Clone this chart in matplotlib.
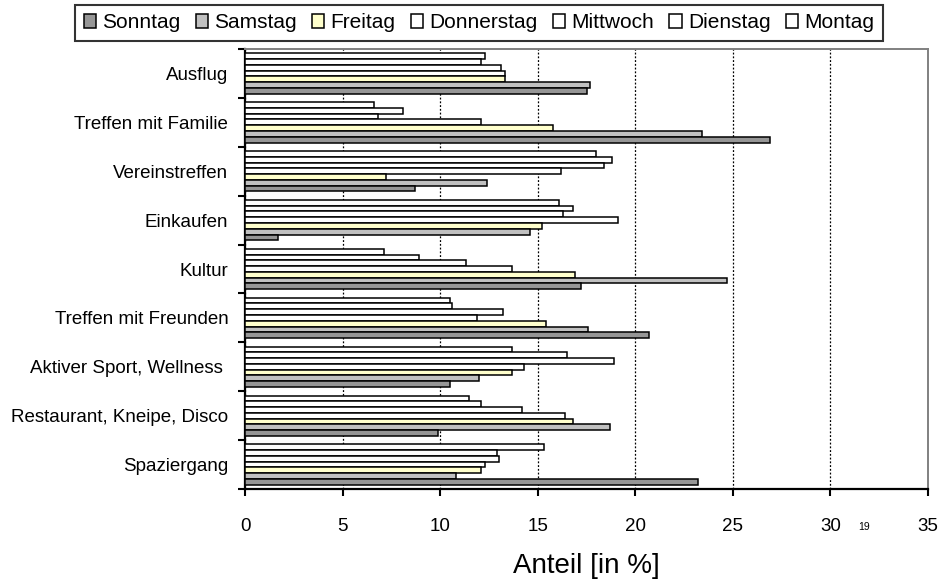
import numpy as np
import matplotlib
matplotlib.use("Agg")
import matplotlib.pyplot as plt
from matplotlib.patches import Patch

plt.rcParams['font.family'] = ['Liberation Sans', 'DejaVu Sans']

# categories from top to bottom
categories = ["Ausflug", "Treffen mit Familie", "Vereinstreffen", "Einkaufen", "Kultur",
              "Treffen mit Freunden", "Aktiver Sport, Wellness ", "Restaurant, Kneipe, Disco",
              "Spaziergang"]

# share in percent per weekday
montag = [12.3, 6.6, 18.0, 16.1, 7.1, 10.5, 13.7, 11.5, 15.3]
dienstag = [12.1, 8.1, 18.8, 16.8, 8.9, 10.6, 16.5, 12.1, 12.9]
mittwoch = [13.1, 6.8, 18.4, 16.3, 11.3, 13.2, 18.9, 14.2, 13.0]
donnerstag = [13.3, 12.1, 16.2, 19.1, 13.7, 11.9, 14.3, 16.4, 12.3]
freitag = [13.3, 15.8, 7.2, 15.2, 16.9, 15.4, 13.7, 16.8, 12.1]
samstag = [17.7, 23.4, 12.4, 14.6, 24.7, 17.6, 12.0, 18.7, 10.8]
sonntag = [17.5, 26.9, 8.7, 1.7, 17.2, 20.7, 10.5, 9.9, 23.2]

days = ["Montag", "Dienstag", "Mittwoch", "Donnerstag", "Freitag", "Samstag", "Sonntag"]
series = [montag, dienstag, mittwoch, donnerstag, freitag, samstag, sonntag]
colors = ["white", "white", "white", "white", "#FFFFCC", "#C0C0C0", "#969696"]

fig = plt.figure(figsize=(9.46, 5.83), dpi=100)
ax = fig.add_axes([245 / 946, 1 - 489 / 583, (928 - 245) / 946, (489 - 49) / 583])

# grouped horizontal bars, Montag on top of every group
n = len(series)
group = 0.825
h = group / n
y = np.arange(len(categories))
for j, (vals, col) in enumerate(zip(series, colors)):
    pos = y - group / 2 + (j + 0.5) * h
    ax.barh(pos, vals, height=h, color=col, edgecolor="black", linewidth=1.1, zorder=3)

ax.set_ylim(len(categories) - 0.5, -0.5)
ax.set_xlim(0, 35)

# x axis
ax.set_xticks(np.arange(0, 36, 5))
ax.tick_params(axis="x", direction="out", length=5, width=1.5, pad=16, labelsize=13.5)
ax.grid(axis="x", color="black", linestyle=(0, (1.5, 1.5)), linewidth=0.9, zorder=1)
ax.get_xgridlines()[-1].set_visible(False)
ax.set_xlabel("Anteil [in %]", fontsize=20, labelpad=13)

# y axis: tick marks between groups, labels centered on groups
ax.set_yticks(np.arange(-0.5, len(categories), 1.0))
ax.set_yticklabels([])
ax.tick_params(axis="y", which="major", direction="out", length=5, width=1.5)
ax.set_yticks(y, minor=True)
ax.set_yticklabels(categories, minor=True)
ax.tick_params(axis="y", which="minor", length=0, pad=12, labelsize=13.5)

# frame: black left/bottom, gray top/right
for side in ["left", "bottom"]:
    ax.spines[side].set_color("black")
    ax.spines[side].set_linewidth(1.6)
for side in ["top", "right"]:
    ax.spines[side].set_color("#808080")
    ax.spines[side].set_linewidth(1.4)

# legend in reversed order
handles = [Patch(facecolor=c, edgecolor="black", linewidth=1.1) for c in colors[::-1]]
leg = fig.legend(handles, days[::-1], loc="upper center", bbox_to_anchor=(479 / 946, 1 - 5 / 583),
                 ncol=7, fontsize=15, frameon=True, fancybox=False, handlelength=0.6,
                 handleheight=0.6, handletextpad=0.3, columnspacing=0.72, borderpad=0.4,
                 borderaxespad=0)
leg.get_frame().set_edgecolor("black")
leg.get_frame().set_linewidth(1.5)

fig.text(864 / 946, 1 - 527 / 583, "19", fontsize=7.5, ha="center", va="center")

fig.savefig("out.png", dpi=100)
